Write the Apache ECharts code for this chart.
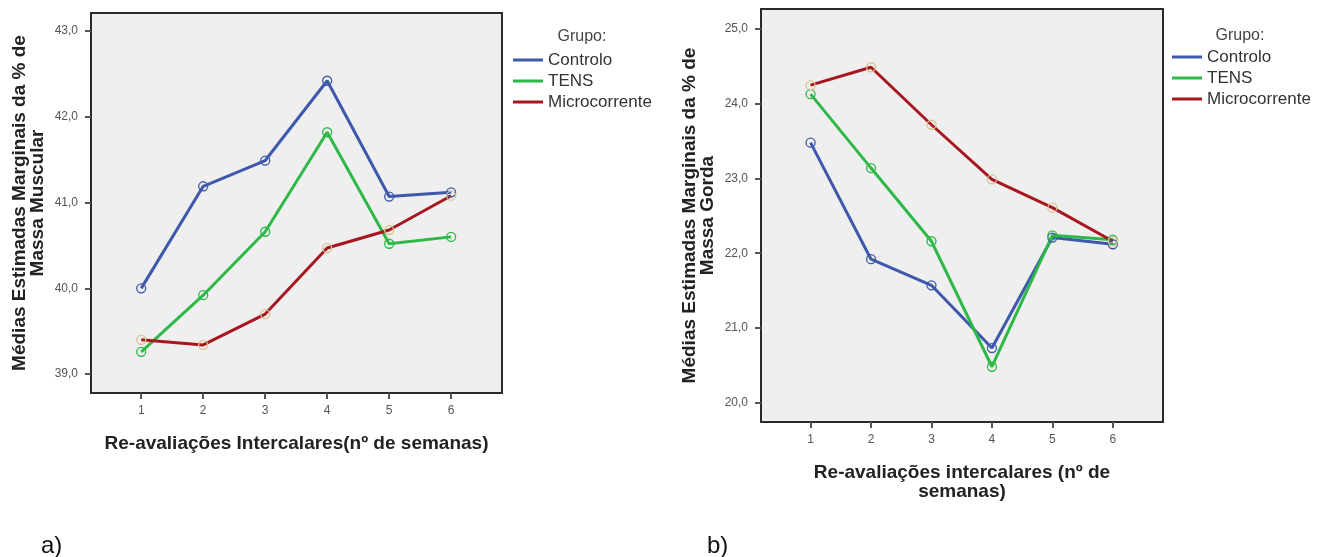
<!DOCTYPE html>
<html>
<head>
<meta charset="utf-8">
<script src="https://cdn.jsdelivr.net/npm/echarts@6/dist/echarts.min.js"></script>
<style>
html,body{margin:0;padding:0;background:#fff;}
#c{width:1326px;height:557px;}
</style>
</head>
<body>
<div id="c"></div>
<script>
const weeks = [1, 2, 3, 4, 5, 6];
const groups = ['Controlo', 'TENS', 'Microcorrente'];
// a) Massa Muscular
const muscleControlo = [40.00, 41.19, 41.49, 42.42, 41.07, 41.12];
const muscleTENS     = [39.26, 39.92, 40.66, 41.82, 40.52, 40.60];
const muscleMicro    = [39.40, 39.34, 39.70, 40.47, 40.68, 41.08];
const muscleTicks    = [39, 40, 41, 42, 43];
// b) Massa Gorda
const fatControlo = [23.48, 21.92, 21.57, 20.73, 22.21, 22.12];
const fatTENS     = [24.13, 23.14, 22.16, 20.48, 22.24, 22.18];
const fatMicro    = [24.25, 24.49, 23.72, 22.99, 22.61, 22.16];
const fatTicks    = [20, 21, 22, 23, 24, 25];

const colors = ['#3e58ac', '#2eb848', '#a8171f'];
const markerBorder = ['#3e58ac', '#2eb848', '#d6c58e'];
const FONT = '"Liberation Sans", Arial, sans-serif';

const chart = echarts.init(document.getElementById('c'), null, {renderer: 'canvas'});

function pairs(vals) { return weeks.map((w, i) => [w, vals[i]]); }
function fmt(v) { return v.toFixed(1).replace('.', ','); }

function mkSeries(data, gi, idx) {
  return {
    type: 'line', name: groups[gi], xAxisIndex: idx, yAxisIndex: idx,
    data: pairs(data),
    symbol: 'circle', symbolSize: 9,
    itemStyle: {color: 'rgba(0,0,0,0)', borderColor: markerBorder[gi], borderWidth: 1.3},
    lineStyle: {color: colors[gi], width: 3},
    emphasis: {disabled: true},
    animation: false
  };
}

const xAxisCommon = {
  type: 'value', splitLine: {show: false},
  axisLine: {show: false},
  axisTick: {show: true, customValues: weeks, length: 6, lineStyle: {color: '#555', width: 2}},
  axisLabel: {customValues: weeks, color: '#555', fontSize: 12, fontFamily: FONT, margin: 12},
  nameLocation: 'middle',
  nameTextStyle: {fontWeight: 'bold', fontSize: 19, color: '#222', fontFamily: FONT, lineHeight: 19}
};
const yAxisCommon = {
  type: 'value', splitLine: {show: false},
  axisLine: {show: false},
  axisTick: {show: true, length: 6, lineStyle: {color: '#555', width: 2}},
  axisLabel: {color: '#555', fontSize: 12, fontFamily: FONT, margin: 13, formatter: fmt},
  nameLocation: 'middle',
  nameTextStyle: {fontWeight: 'bold', fontSize: 19, color: '#222', fontFamily: FONT, lineHeight: 18, align: 'center'}
};

function legendFor(left, top) {
  return {
    orient: 'vertical', left: left, top: top, padding: 0,
    icon: 'rect', itemWidth: 30, itemHeight: 3, itemGap: 4,
    selectedMode: false,
    textStyle: {fontSize: 17, color: '#333', fontFamily: FONT, lineHeight: 17},
    data: groups.map((g, i) => ({name: g, itemStyle: {color: colors[i], borderColor: colors[i], borderWidth: 0}}))
  };
}

const option = {
  animation: false,
  backgroundColor: '#fff',
  title: [
    {text: 'Grupo:', left: 577, top: 24, textAlign: 'center', textStyle: {fontSize: 16, fontWeight: 'normal', color: '#444', fontFamily: FONT}},
    {text: 'Grupo:', left: 1235, top: 23, textAlign: 'center', textStyle: {fontSize: 16, fontWeight: 'normal', color: '#444', fontFamily: FONT}},
    {text: 'a)', left: 36, top: 529, textStyle: {fontSize: 24, fontWeight: 'normal', color: '#111', fontFamily: FONT}},
    {text: 'b)', left: 702, top: 529, textStyle: {fontSize: 24, fontWeight: 'normal', color: '#111', fontFamily: FONT}}
  ],
  legend: [legendFor(513, 51.5), legendFor(1172, 48.5)],
  grid: [
    {left: 91, top: 13, width: 411, height: 380, show: true, backgroundColor: '#efefef', borderColor: '#2a2a2a', borderWidth: 2},
    {left: 761, top: 9, width: 402, height: 413, show: true, backgroundColor: '#efefef', borderColor: '#2a2a2a', borderWidth: 2}
  ],
  xAxis: [
    Object.assign({}, xAxisCommon, {gridIndex: 0, min: 0.19, max: 6.82, name: 'Re-avaliações Intercalares(nº de semanas)', nameGap: 41}),
    Object.assign({}, xAxisCommon, {gridIndex: 1, min: 0.18, max: 6.83, name: 'Re-avaliações intercalares (nº de\nsemanas)', nameGap: 41})
  ],
  yAxis: [
    Object.assign({}, yAxisCommon, {gridIndex: 0, min: 38.78, max: 43.21,
      axisTick: Object.assign({}, yAxisCommon.axisTick, {customValues: muscleTicks}),
      axisLabel: Object.assign({}, yAxisCommon.axisLabel, {customValues: muscleTicks}),
      name: 'Médias Estimadas Marginais da % de\nMassa Muscular', nameGap: 44}),
    Object.assign({}, yAxisCommon, {gridIndex: 1, min: 19.74, max: 25.27,
      axisTick: Object.assign({}, yAxisCommon.axisTick, {customValues: fatTicks}),
      axisLabel: Object.assign({}, yAxisCommon.axisLabel, {customValues: fatTicks}),
      name: 'Médias Estimadas Marginais da % de\nMassa Gorda', nameGap: 44})
  ],
  series: [
    mkSeries(muscleControlo, 0, 0),
    mkSeries(muscleTENS, 1, 0),
    mkSeries(muscleMicro, 2, 0),
    mkSeries(fatControlo, 0, 1),
    mkSeries(fatTENS, 1, 1),
    mkSeries(fatMicro, 2, 1)
  ]
};
chart.setOption(option);
</script>
</body>
</html>
